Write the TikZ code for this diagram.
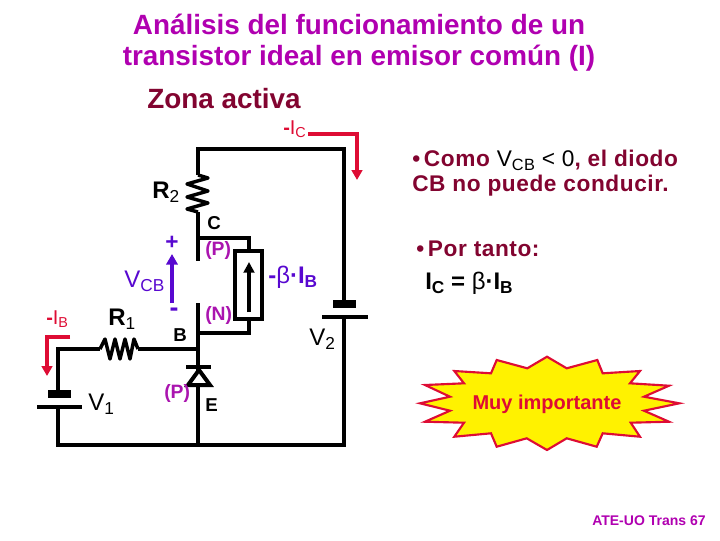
\documentclass[tikz,border=0pt]{standalone}
\usepackage{fontspec}
\setmainfont{Liberation Sans}
\usetikzlibrary{arrows.meta}
\definecolor{titlecol}{RGB}{176,0,176}
\definecolor{winecol}{RGB}{130,4,48}
\definecolor{zonecol}{RGB}{170,20,175}
\definecolor{vcbcol}{RGB}{88,8,208}
\definecolor{curcol}{RGB}{222,12,52}
\newcommand{\lowtxt}[1]{\raisebox{-0.32ex}{\scalebox{0.72}{#1}}}
\newcommand{\sz}[1]{\fontsize{#1}{#1}\selectfont}
\tikzset{
  wire/.style={line width=3pt},
  zigzag/.style={line width=2.6pt,line join=round},
  thickplate/.style={line width=6pt},
  curarrow/.style={curcol,line width=2.6pt,-{Triangle[length=7.5pt,width=8pt]}},
  txt/.style={inner sep=0pt,anchor=west,align=left},
  pn/.style={txt,zonecol,font=\sz{14.5}\bfseries},
  side/.style={txt,winecol,font=\sz{17}\bfseries\addfontfeature{LetterSpace=2.5}},
}
\begin{document}
\begin{tikzpicture}[x=0.75pt,y=0.75pt,yscale=-1,xscale=1]
\useasboundingbox (0,0) rectangle (720,540);

% Wire points
\coordinate (topL) at (198,149);
\coordinate (topR) at (344,149);
\coordinate (r2top) at (198,175);
\coordinate (r2bot) at (198,212);
\coordinate (cgap) at (198,261);
\coordinate (cjun) at (198,238);
\coordinate (srcT) at (249,238);
\coordinate (srcTin) at (249,251);
\coordinate (srcBin) at (249,319);
\coordinate (srcB) at (249,333);
\coordinate (bjunU) at (198,333);
\coordinate (ngap) at (198,303);
\coordinate (bjun) at (198,349);
\coordinate (r1L) at (100,349);
\coordinate (r1R) at (138,349);
\coordinate (baseL) at (58,349);
\coordinate (v1T) at (58,394);
\coordinate (v1B) at (58,407);
\coordinate (botL) at (58,445);
\coordinate (botM) at (198,445);
\coordinate (botR) at (344,445);
\coordinate (v2T) at (344,304);
\coordinate (v2B) at (344,317);

%Straight Lines
\draw [wire,line join=miter] (r2top) -- (topL) -- (topR) -- (v2T);
\draw [wire] (v2B) -- (botR) -- (botL) -- (v1B);
\draw [wire] (v1T) -- (baseL) -- (r1L);
\draw [wire] (r1R) -- (bjun);
\draw [wire] (r2bot) -- (cgap);
\draw [wire] (cjun) -- (srcT) -- (srcTin);
\draw [wire] (ngap) -- (bjun) -- (botM);
\draw [wire] (bjunU) -- (srcB) -- (srcBin);

%Shape: Resistors
\draw [zigzag] (r2top) -- (208,178) -- (187,184) -- (208,191) -- (187,197) -- (208,203) -- (187,209) -- (r2bot);
\draw [zigzag] (r1L) -- (105,339) -- (110,359) -- (115,339) -- (120,359) -- (125,339) -- (130,359) -- (134,339) -- (r1R);

%Shape: Batteries
\draw [thickplate] (48,394) -- (71,394);
\draw [wire] (37,407) -- (82,407);
\draw [thickplate] (333,304) -- (356,304);
\draw [wire] (322,317) -- (368,317);

%Shape: Diode
\draw [wire,fill=white,line join=miter] (199,370) -- (210,385) -- (188,385) -- cycle;
\draw [wire] (186,367) -- (211,367);

%Shape: Current source
\draw [wire,fill=white] (235,251) rectangle (262,319);
\draw [wire,-{Triangle[length=8pt,width=8pt]}] (249,312) -- (249,262);

%Arrows
\draw [curarrow] (308,134) -- (357,134) -- (357,180);
\draw [curarrow] (70,337) -- (47,337) -- (47,376);
\draw [vcbcol,line width=3pt,-{Triangle[length=8pt,width=8.5pt]}] (172,303) -- (172,254);

%Shape: Star
\draw [curcol,line width=1.6pt,fill=yellow,line join=miter]
  (420,403.3) -- (450,396.7) -- (425,385) -- (464,383.3) -- (454.3,371) -- (491,373.3) -- (496.7,360)
  -- (527.3,368.3) -- (547,356.7) -- (566.7,368.3) -- (597.3,360) -- (602.7,373.3) -- (640,371)
  -- (630,383.3) -- (669,385.7) -- (644,396.7) -- (679.3,403.3) -- (644,410.7) -- (669,421.7)
  -- (630.7,422.7) -- (640,436.7) -- (602.7,433.3) -- (596.7,446.7) -- (566.7,438.3) -- (547,450)
  -- (526.7,438.3) -- (496.7,446.7) -- (491,433.3) -- (454.3,436.7) -- (464,422.7) -- (425,421.7)
  -- (450,410.7) -- cycle;

% Text Node
\node (title1) [inner sep=0pt,titlecol,font=\sz{20.9}\bfseries] at (359,24) {Análisis del funcionamiento de un};
\node (title2) [inner sep=0pt,titlecol,font=\sz{20.9}\bfseries] at (359,58) {transistor ideal en emisor común (I)};
\node (zona) [txt,winecol,font=\sz{20.9}\bfseries] at (147,99) {Zona activa};
\node (ic) [txt,curcol,font=\sz{15}] at (283,129) {\textbf{-}I\lowtxt{C}};
\node (ib) [txt,curcol,font=\sz{15}] at (46,319) {\textbf{-}I\lowtxt{B}};
\node (rtwo) [txt,font=\sz{18}\bfseries] at (152,192) {R\lowtxt{\mdseries 2}};
\node (rone) [txt,font=\sz{18}\bfseries] at (108,319) {R\lowtxt{\mdseries 1}};
\node (vone) [txt,font=\sz{18}] at (88,404) {V\lowtxt{1}};
\node (vtwo) [txt,font=\sz{18}] at (309,339) {V\lowtxt{2}};
\node (vcb) [txt,vcbcol,font=\sz{18}] at (124,281) {V\lowtxt{CB}};
\node (plus) [inner sep=0pt,vcbcol,font=\sz{17}\bfseries] at (172,243) {+};
\node (minus) [inner sep=0pt,vcbcol,font=\sz{20}\bfseries] at (174,312) {-};
\node (cc) [txt,font=\sz{14}\bfseries] at (207,223) {C};
\node (bb) [txt,font=\sz{14}\bfseries] at (173,335) {B};
\node (ee) [txt,font=\sz{14}\bfseries] at (205,405) {E};
\node (pc) [pn] at (205,250) {(P)};
\node (nb) [pn] at (205,315) {(N)};
\node (pe) [pn] at (164,393) {(P)};
\node (beta) [txt,vcbcol,font=\sz{18}] at (268,277) {\textbf{-}β\textbf{·I\lowtxt{B}}};
\node (como1) [side] at (412,160) {•\,Como \textcolor{black}{\mdseries V\lowtxt{CB} < 0}, el diodo};
\node (como2) [side] at (412,186) {CB no puede conducir.};
\node (portanto) [side] at (416,249) {•\,Por tanto:};
\node (icb) [txt,font=\sz{18}\bfseries] at (425,283) {I\lowtxt{C} = {\mdseries β}·I\lowtxt{B}};
\node (muy) [inner sep=0pt,curcol,font=\sz{15}\bfseries] at (547,404) {Muy importante};
\node (ate) [txt,titlecol,font=\sz{10.5}\bfseries] at (592,521) {ATE-UO Trans 67};
\end{tikzpicture}
\end{document}
